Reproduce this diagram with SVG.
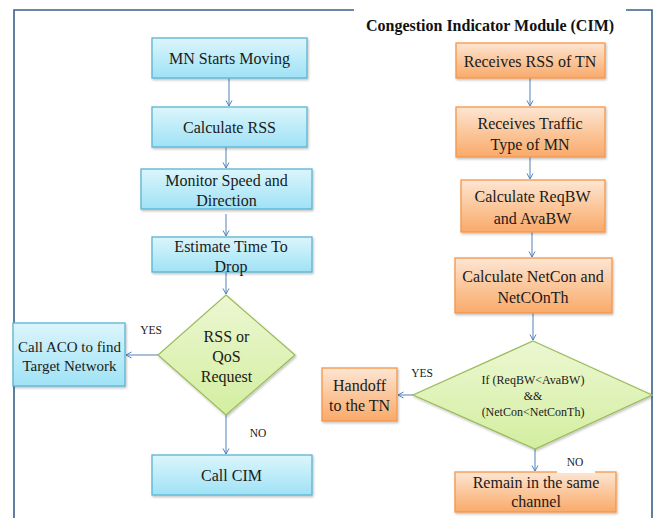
<svg xmlns="http://www.w3.org/2000/svg" width="653" height="518" viewBox="0 0 653 518">
<style>
  .t{font-family:"Liberation Serif","Times New Roman",serif;font-size:16px;fill:#1a1a1a;text-anchor:middle}
  .s{font-family:"Liberation Serif","Times New Roman",serif;font-size:11.5px;fill:#1a1a1a;text-anchor:middle}
  .d{font-family:"Liberation Serif","Times New Roman",serif;font-size:12px;fill:#1a1a1a;text-anchor:middle}
  .title{font-family:"Liberation Serif","Times New Roman",serif;font-size:16px;font-weight:bold;fill:#111;text-anchor:middle}
  .blue{fill:url(#gBlue);stroke:#5ab4d2;stroke-width:1.3;filter:url(#sh)}
  .orange{fill:url(#gOrange);stroke:#f79646;stroke-width:1.3;filter:url(#sh)}
  .green{fill:url(#gGreen);stroke:#9bbb59;stroke-width:1.2;filter:url(#sh)}
  .c{fill:none;stroke:#4f81bd;stroke-width:1;marker-end:url(#ah)}
  .frame{fill:none;stroke:#3a5f8c;stroke-width:1.6}
</style>
<defs>
  <linearGradient id="gBlue" x1="0" y1="0" x2="0" y2="1">
    <stop offset="0" stop-color="#dcf5fc"/>
    <stop offset="0.5" stop-color="#bdecf9"/>
    <stop offset="1" stop-color="#9fe2f6"/>
  </linearGradient>
  <linearGradient id="gOrange" x1="0" y1="0" x2="0" y2="1">
    <stop offset="0" stop-color="#fde6d4"/>
    <stop offset="0.5" stop-color="#fbc79c"/>
    <stop offset="1" stop-color="#f9aa6a"/>
  </linearGradient>
  <linearGradient id="gGreen" x1="0" y1="0" x2="0" y2="1">
    <stop offset="0" stop-color="#ecf7d2"/>
    <stop offset="1" stop-color="#d3eea0"/>
  </linearGradient>
  <filter id="sh" x="-10%" y="-10%" width="130%" height="140%">
    <feDropShadow dx="1" dy="1.5" stdDeviation="1" flood-color="#000" flood-opacity="0.25"/>
  </filter>
  <marker id="ah" markerWidth="8" markerHeight="8" refX="6" refY="3.5" orient="auto" markerUnits="userSpaceOnUse">
    <path d="M0.5,0.5 L6,3.5 L0.5,6.5" fill="none" stroke="#4f81bd" stroke-width="1"/>
  </marker>
</defs>
<rect width="653" height="518" fill="#fff"/>
<g id="frame">
  <path class="frame" d="M354,10 H14 V518"/>
  <path class="frame" d="M626,10 H652 V518"/>
</g>
<text class="title" x="490" y="31">Congestion Indicator Module (CIM)</text>
<g id="connectors">
  <line class="c" x1="229" y1="78" x2="229" y2="106"/>
  <line class="c" x1="226" y1="147" x2="226" y2="168"/>
  <line class="c" x1="226" y1="214" x2="226" y2="236"/>
  <line class="c" x1="226" y1="272" x2="226" y2="294"/>
  <line class="c" x1="158" y1="355" x2="126" y2="355"/>
  <line class="c" x1="226" y1="415" x2="226" y2="454"/>
  <line class="c" x1="530" y1="78" x2="530" y2="106"/>
  <line class="c" x1="530" y1="157" x2="530" y2="179"/>
  <line class="c" x1="532" y1="232" x2="532" y2="257"/>
  <line class="c" x1="533" y1="313" x2="533" y2="340"/>
  <line class="c" x1="413" y1="395" x2="398" y2="395"/>
  <line class="c" x1="535" y1="449" x2="535" y2="471"/>
  <text class="s" x="151" y="334">YES</text>
  <text class="s" x="258" y="437">NO</text>
  <text class="s" x="422" y="377">YES</text>
</g>
<g id="n1"><rect class="blue" x="152" y="38" width="155" height="40"/><text class="t" x="229.5" y="64">MN Starts Moving</text></g>
<g id="n2"><rect class="blue" x="152" y="107" width="155" height="40"/><text class="t" x="229.5" y="133">Calculate RSS</text></g>
<g id="n3"><rect class="blue" x="141" y="169" width="171" height="40"/><text class="t" x="226.5" y="185.5">Monitor Speed and</text><text class="t" x="226.5" y="206">Direction</text></g>
<g id="n4"><rect class="blue" x="152" y="237" width="160" height="35"/><text class="t" x="231" y="251.5">Estimate Time To</text><text class="t" x="231" y="271.5">Drop</text></g>
<g id="d1"><polygon class="green" points="226,295 295,355 226,415 158,355"/><text class="t" x="226.5" y="341.5">RSS or</text><text class="t" x="226.5" y="362">QoS</text><text class="t" x="226.5" y="382">Request</text></g>
<g id="n5"><rect class="blue" x="13" y="323" width="112" height="63"/><text class="t" x="69.5" y="351.5" style="font-size:15px">Call ACO to find</text><text class="t" x="69.5" y="371" style="font-size:15px">Target Network</text></g>
<g id="n6"><rect class="blue" x="152" y="455" width="160" height="40"/><text class="t" x="231.5" y="480.5">Call CIM</text></g>
<g id="r1"><rect class="orange" x="456" y="43" width="149" height="35"/><text class="t" x="530" y="67">Receives RSS of TN</text></g>
<g id="r2"><rect class="orange" x="456" y="107" width="149" height="50"/><text class="t" x="530" y="129">Receives Traffic</text><text class="t" x="530" y="149.5">Type of MN</text></g>
<g id="r3"><rect class="orange" x="461" y="180" width="144" height="52"/><text class="t" x="532.5" y="202">Calculate ReqBW</text><text class="t" x="532.5" y="223.5">and AvaBW</text></g>
<g id="r4"><rect class="orange" x="455" y="258" width="157" height="55"/><text class="t" x="533" y="281.5">Calculate NetCon and</text><text class="t" x="533" y="302.5">NetCOnTh</text></g>
<g id="d2"><polygon class="green" points="533,341 652,395 535,449 413,395"/><text class="d" x="533" y="384">If (ReqBW&lt;AvaBW)</text><text class="d" x="533" y="400">&amp;&amp;</text><text class="d" x="533" y="416">(NetCon&lt;NetConTh)</text></g>
<g id="r5"><rect class="orange" x="322" y="368" width="75" height="53"/><text class="t" x="359.5" y="390.5">Handoff</text><text class="t" x="359.5" y="411">to the TN</text></g>
<g id="r6"><rect class="orange" x="455" y="472" width="161" height="40"/><text class="t" x="536" y="488">Remain in the same</text><text class="t" x="536" y="507">channel</text></g>
<g id="nolabel"><rect x="557" y="452" width="38" height="21" fill="#fff"/><text class="s" x="575" y="466">NO</text></g>
</svg>
